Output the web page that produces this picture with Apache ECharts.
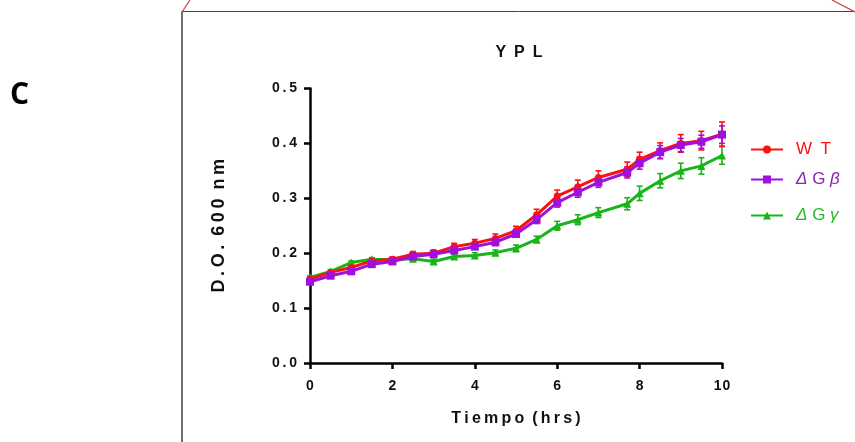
<!DOCTYPE html>
<html>
<head>
<meta charset="utf-8">
<script src="https://cdn.jsdelivr.net/npm/echarts@6/dist/echarts.min.js"></script>
<style>html,body{margin:0;padding:0;background:#fff;}#c{width:855px;height:442px;}</style>
</head>
<body>
<div id="c"></div>
<script>
var times = [0,0.5,1,1.5,2,2.5,3,3.5,4,4.5,5,5.5,6,6.5,7,7.7,8,8.5,9,9.5,10];
var wtMean = [0.153,0.165,0.174,0.186,0.189,0.198,0.200,0.212,0.218,0.227,0.241,0.270,0.304,0.321,0.338,0.353,0.371,0.387,0.400,0.405,0.417];
var wtErr  = [0.003,0.003,0.004,0.004,0.004,0.005,0.006,0.006,0.007,0.008,0.008,0.010,0.011,0.012,0.012,0.013,0.013,0.014,0.016,0.017,0.022];
var gbMean = [0.148,0.159,0.167,0.180,0.185,0.194,0.198,0.205,0.212,0.220,0.235,0.261,0.292,0.311,0.329,0.347,0.364,0.384,0.397,0.403,0.416];
var gbErr  = [0.003,0.003,0.003,0.003,0.004,0.004,0.004,0.005,0.005,0.006,0.006,0.007,0.008,0.009,0.009,0.010,0.011,0.012,0.012,0.012,0.016];
var ggMean = [0.156,0.167,0.183,0.189,0.188,0.190,0.185,0.194,0.196,0.201,0.209,0.225,0.250,0.261,0.274,0.290,0.309,0.332,0.350,0.359,0.378];
var ggErr  = [0.003,0.003,0.003,0.003,0.004,0.004,0.004,0.004,0.005,0.005,0.006,0.006,0.008,0.009,0.009,0.011,0.013,0.013,0.014,0.015,0.016];
var xTicks = [0,2,4,6,8,10];
var yTicks = [0,0.1,0.2,0.3,0.4,0.5];
var seriesNames = ['WT','ΔGβ','ΔGγ'];

var cRed = '#ff1010', cPur = '#a010dc', cGrn = '#19b419';
var cPurTxt = '#8a22b4', cGrnTxt = '#22bb22';

function pts(m){ return times.map(function(t,i){ return [t, m[i]]; }); }
function errs(m,e){ return times.map(function(t,i){ return [t, m[i]-e[i], m[i]+e[i]]; }); }

function errSeries(data, color){
  return {
    type:'custom', data:data, silent:true, z:2,
    renderItem:function(params, api){
      var x = api.value(0);
      var lo = api.coord([x, api.value(1)]);
      var hi = api.coord([x, api.value(2)]);
      var w = 3;
      var st = {stroke:color, lineWidth:1.6};
      return {type:'group', children:[
        {type:'line', shape:{x1:lo[0],y1:lo[1],x2:hi[0],y2:hi[1]}, style:st},
        {type:'line', shape:{x1:hi[0]-w,y1:hi[1],x2:hi[0]+w,y2:hi[1]}, style:st},
        {type:'line', shape:{x1:lo[0]-w,y1:lo[1],x2:lo[0]+w,y2:lo[1]}, style:st}
      ]};
    }
  };
}
function sp(s, ch){ return s.split('').join(ch); }

var txtFont = '"Liberation Sans", Arial, sans-serif';
var chart = echarts.init(document.getElementById('c'));
function legendCfg(name, top, color, fmt){
  return {
    data:[name], left:745, top:top, orient:'vertical',
    itemWidth:32, itemHeight:10, selectedMode:false,
    formatter: fmt,
    textStyle:{color:color, fontSize:17, fontFamily:txtFont, padding:[0,0,0,8],
      rich:{i:{fontStyle:'italic', color:color, fontSize:17, fontFamily:txtFont}, n:{color:color, fontSize:17, fontFamily:txtFont}}}
  };
}
chart.setOption({
  animation:false,
  backgroundColor:'#fff',
  title:{text:sp('YPL','\u2002'), left:514, top:40, textAlign:'center',
    textStyle:{fontSize:16, fontWeight:'bold', color:'#111', fontFamily:txtFont}},
  legend:[
    legendCfg(seriesNames[0], 136, cRed, function(){ return 'W\u2002T'; }),
    legendCfg(seriesNames[1], 166, cPurTxt, function(){ return '{i|Δ}{n| G }{i|β}'; }),
    legendCfg(seriesNames[2], 202, cGrnTxt, function(){ return '{i|Δ}{n| G }{i|γ}'; })
  ],
  grid:{left:310, right:133, top:88.5, bottom:79, containLabel:false},
  xAxis:{type:'value', min:0, max:10, interval:2,
    axisLine:{onZero:false, lineStyle:{color:'#000', width:2.5}},
    axisTick:{show:true, length:6, lineStyle:{color:'#000', width:2.5}},
    axisLabel:{margin:16, fontSize:14, fontWeight:'bold', color:'#111', fontFamily:txtFont,
      formatter:function(v){ return sp(String(v),'\u200A'); }},
    splitLine:{show:false},
    name:sp('Tiempo','\u2009')+'\u2002'+sp('(hrs)','\u2009'), nameLocation:'middle', nameGap:48,
    nameTextStyle:{fontSize:16, fontWeight:'bold', color:'#111', fontFamily:txtFont}
  },
  yAxis:{type:'value', min:0, max:0.5, interval:0.1,
    axisLine:{show:true, onZero:false, lineStyle:{color:'#000', width:2.5}},
    axisTick:{show:true, length:6, lineStyle:{color:'#000', width:2.5}},
    axisLabel:{margin:13, fontSize:14, fontWeight:'bold', color:'#111', fontFamily:txtFont,
      formatter:function(v){ return sp(v.toFixed(1),'\u2009'); }},
    splitLine:{show:false},
    name:sp('D.O.','\u2009')+'\u2002'+sp('600','\u2009')+'\u2002'+sp('nm','\u2009'), nameLocation:'middle', nameGap:82,
    nameTextStyle:{fontSize:18, fontWeight:'bold', color:'#111', fontFamily:txtFont}
  },
  series:[
    errSeries(errs(ggMean, ggErr), cGrn),
    errSeries(errs(wtMean, wtErr), cRed),
    errSeries(errs(gbMean, gbErr), cPur),
    {name:seriesNames[2], type:'line', data:pts(ggMean), symbol:'triangle', symbolSize:8, z:3,
      lineStyle:{color:cGrn, width:3}, itemStyle:{color:cGrn}},
    {name:seriesNames[0], type:'line', data:pts(wtMean), symbol:'circle', symbolSize:7, z:4,
      lineStyle:{color:cRed, width:3}, itemStyle:{color:cRed}},
    {name:seriesNames[1], type:'line', data:pts(gbMean), symbol:'rect', symbolSize:8, z:5,
      lineStyle:{color:cPur, width:3}, itemStyle:{color:cPur}}
  ],
  graphic:[
    {type:'line', shape:{x1:182, y1:11.5, x2:855, y2:11.5}, style:{stroke:'#444', lineWidth:1}},
    {type:'line', shape:{x1:182, y1:11.5, x2:182, y2:442}, style:{stroke:'#222', lineWidth:1.3}},
    {type:'line', shape:{x1:182, y1:12, x2:190, y2:0}, style:{stroke:'#c8413a', lineWidth:1.2}},
    {type:'line', shape:{x1:832, y1:0, x2:855, y2:12}, style:{stroke:'#c8413a', lineWidth:1.2}},
    {type:'text', left:10, top:80, style:{text:'C', fontSize:30, fontWeight:'bold', fill:'#000', fontFamily:'"Open Sans", "Liberation Sans", sans-serif'}}
  ]
});
</script>
</body>
</html>
